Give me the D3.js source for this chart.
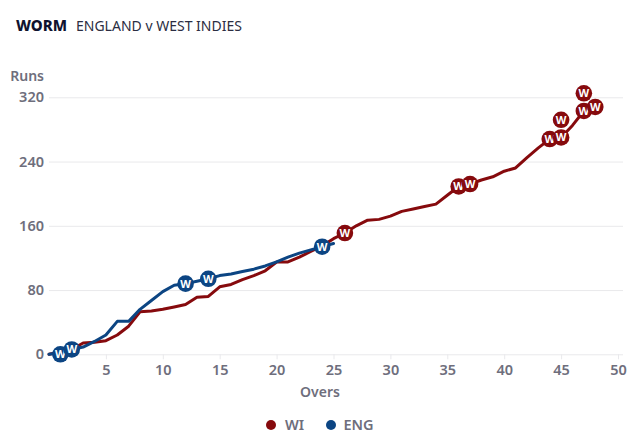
<!DOCTYPE html>
<html><head><meta charset="utf-8">
<script src="https://cdn.jsdelivr.net/npm/d3@7/dist/d3.min.js"></script>
<style>html,body{margin:0;padding:0;background:#fff}svg{display:block}text{font-family:"Noto Sans","Open Sans",sans-serif}</style>
</head><body><svg id="c" width="640" height="443"></svg>
<script>
const overs = d3.range(0, 49);
const wiRuns = [0,3,6,14,15,17,24,35,53,54,56,59,62,71,72,84,87,93,98,104,115,115,121,128,135,144,151,160,167,168,172,178,181,184,187,198,209,212,217,221,228,232,245,257,268,270,285,303,308];
const engOvers = d3.range(0, 25).concat([25]);
const engRuns = [0,2,6,9,16,24,41,41,56,67,78,86,88,91,94,98,100,103,106,110,115,121,126,130,134,138];
const wiWktOvers = [26,36,37,44,45,45,47,47,48];
const wiWktRuns = [151,209,212,268,270,292,303,325,308];
const engWktOvers = [1,2,12,14,24];
const engWktRuns = [0,6,88,94,134];
const xTicks = [5,10,15,20,25,30,35,40,45,50];
const yTicks = [0,80,160,240,320];
const WI = "#860a0d", ENG = "#0c4583", GREY = "#6e6e7c";

const svg = d3.select("#c");
const x = d3.scaleLinear().domain([0,50]).range([49,618]);
const y = d3.scaleLinear().domain([0,320]).range([354.3,97.3]);

svg.append("text").attr("x",16).attr("y",31).attr("font-size",15).attr("font-weight",800).attr("fill","#10132f").text("WORM");
svg.append("text").attr("x",76).attr("y",31).attr("font-size",14).attr("fill","#2b2d42").text("ENGLAND v WEST INDIES");

const gy = svg.append("g").attr("transform","translate(49,0)")
  .call(d3.axisLeft(y).tickValues(yTicks).tickSize(-574).tickPadding(4));
gy.select(".domain").remove();
gy.selectAll(".tick line").attr("stroke","#e9e9ec");
gy.selectAll(".tick text").attr("font-size",14.5).attr("font-weight",600).attr("fill",GREY).attr("x",-5);

const gx = svg.append("g").attr("transform","translate(0,354.3)")
  .call(d3.axisBottom(x).tickValues(xTicks).tickSize(5).tickPadding(5));
gx.select(".domain").remove();
gx.selectAll(".tick line").attr("stroke","#e9e9ec");
gx.selectAll(".tick text").attr("font-size",14.5).attr("font-weight",600).attr("fill",GREY);

svg.append("text").attr("x",44).attr("y",81).attr("text-anchor","end").attr("font-size",14).attr("font-weight",600).attr("fill",GREY).text("Runs");
svg.append("text").attr("x",320).attr("y",397).attr("text-anchor","middle").attr("font-size",14).attr("font-weight",600).attr("fill",GREY).text("Overs");

const line = d3.line().x(d=>x(d[0])).y(d=>y(d[1])).curve(d3.curveLinear);
function draw(xs, ys, wx, wy, col){
  svg.append("path").attr("d",line(xs.map((v,i)=>[v,ys[i]]))).attr("fill","none").attr("stroke",col).attr("stroke-width",3).attr("stroke-linejoin","round").attr("stroke-linecap","round");
  const g = svg.append("g").selectAll("g").data(wx.map((v,i)=>[v,wy[i]])).join("g")
    .attr("transform",d=>`translate(${x(d[0])},${y(d[1])})`);
  g.append("circle").attr("r",8.3).attr("fill",col);
  g.append("text").attr("text-anchor","middle").attr("y",4).attr("font-size",11).attr("font-weight",700).attr("fill","#fff").text("W");
}
draw(overs, wiRuns, wiWktOvers, wiWktRuns, WI);
draw(engOvers, engRuns, engWktOvers, engWktRuns, ENG);

const legendNames = ["WI","ENG"], legendCols = [WI,ENG], legendCx = [271,331], legendTx = [285,343.5];
legendNames.forEach((n,i)=>{
  svg.append("circle").attr("cx",legendCx[i]).attr("cy",425).attr("r",5).attr("fill",legendCols[i]);
  svg.append("text").attr("x",legendTx[i]).attr("y",430).attr("font-size",14.5).attr("font-weight",600).attr("fill",GREY).text(n);
});
</script></body></html>
